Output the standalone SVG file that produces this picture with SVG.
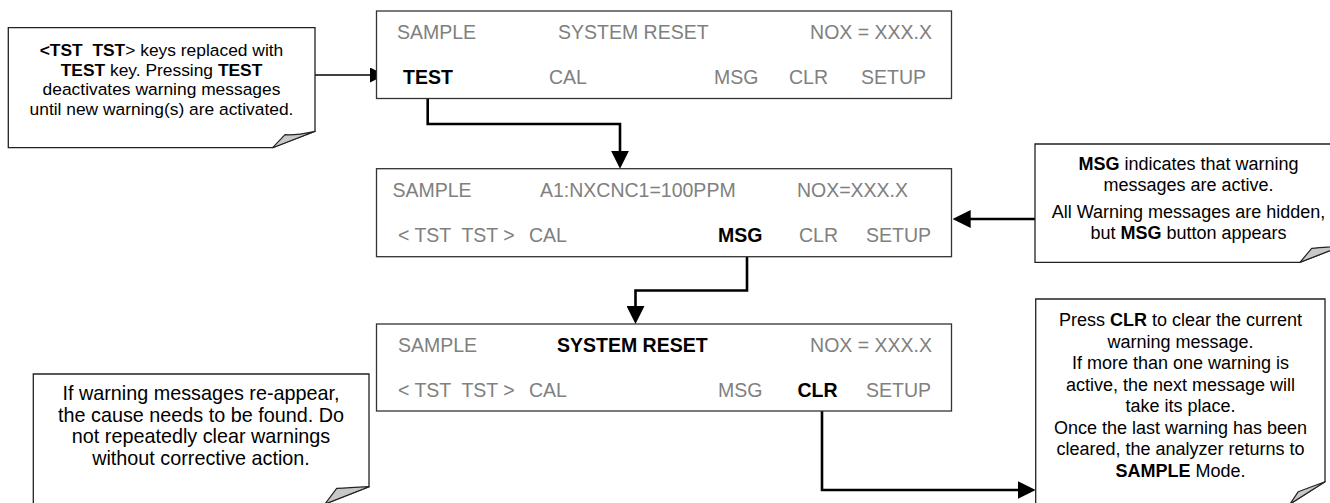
<svg xmlns="http://www.w3.org/2000/svg" width="1330" height="503" viewBox="0 0 1330 503">
<defs>
<style>
.scr{fill:#fff;stroke:#333;stroke-width:1.3}
.st{font-family:"Liberation Sans",Arial,sans-serif;font-size:19.5px;fill:#808080}
.sb{font-family:"Liberation Sans",Arial,sans-serif;font-size:19.5px;font-weight:bold;fill:#000}
.co{fill:#fff;stroke:#222;stroke-width:1.3}
.flap{fill:#c8c8c8;stroke:#222;stroke-width:1.2;stroke-linejoin:round}
.ct{font-family:"Liberation Sans",Arial,sans-serif;fill:#000;text-anchor:middle;white-space:pre}
.b{font-weight:bold}
.thick{fill:none;stroke:#000;stroke-width:2.6}
.thin{fill:none;stroke:#000;stroke-width:1.3}
</style>
<marker id="ah" markerUnits="userSpaceOnUse" markerWidth="18" markerHeight="18" viewBox="0 0 18 18" refX="4" refY="9" orient="auto">
<path d="M0,0 L18,9 L0,18 Z" fill="#000"/>
</marker>
<marker id="ahs" markerUnits="userSpaceOnUse" markerWidth="15" markerHeight="15" viewBox="0 0 15 15" refX="4" refY="7.5" orient="auto">
<path d="M0,0 L15,7.5 L0,15 Z" fill="#000"/>
</marker>
</defs>

<g id="connectors">
<path class="thin" d="M315,75 H374" marker-end="url(#ahs)"/>
<path class="thick" d="M427.7,90.5 V124 H620 V154.7" marker-end="url(#ah)"/>
<path class="thick" d="M1035,219 H966.7" marker-end="url(#ah)"/>
<path class="thick" d="M747,246 V290.5 H635.5 V310" marker-end="url(#ah)"/>
<path class="thick" d="M822,401 V490 H1021.7" marker-end="url(#ah)"/>
</g>

<g id="screen1">
<rect class="scr" x="376.5" y="11" width="575" height="87.5"/>
<text class="st" x="397" y="38.5">SAMPLE</text>
<text class="st" x="558" y="38.5">SYSTEM RESET</text>
<text class="st" x="932" y="38.5" text-anchor="end">NOX = XXX.X</text>
<text class="sb" x="403" y="84">TEST</text>
<text class="st" x="549" y="84">CAL</text>
<text class="st" x="714" y="84">MSG</text>
<text class="st" x="789" y="84">CLR</text>
<text class="st" x="861" y="84">SETUP</text>
</g>

<g id="screen2">
<rect class="scr" x="376.5" y="168.7" width="575" height="88"/>
<text class="st" x="392.5" y="196.5">SAMPLE</text>
<text class="st" x="540" y="196.5">A1:NXCNC1=100PPM</text>
<text class="st" x="908" y="196.5" text-anchor="end">NOX=XXX.X</text>
<text class="st" x="398" y="241.5" style="white-space:pre">&lt; TST  TST &gt;</text>
<text class="st" x="529" y="241.5">CAL</text>
<text class="sb" x="718" y="241.5">MSG</text>
<text class="st" x="799" y="241.5">CLR</text>
<text class="st" x="866" y="241.5">SETUP</text>
</g>

<g id="screen3">
<rect class="scr" x="376.5" y="324" width="575" height="87"/>
<text class="st" x="398" y="352">SAMPLE</text>
<text class="sb" x="557" y="352">SYSTEM RESET</text>
<text class="st" x="932" y="352" text-anchor="end">NOX = XXX.X</text>
<text class="st" x="398" y="397" style="white-space:pre">&lt; TST  TST &gt;</text>
<text class="st" x="529" y="397">CAL</text>
<text class="st" x="718" y="397">MSG</text>
<text class="sb" x="797.5" y="397">CLR</text>
<text class="st" x="866" y="397">SETUP</text>
</g>

<g id="callout-test">
<path class="co" d="M8.3,27.7 H315 V131.3 L272.7,147.7 H8.3 Z"/>
<path class="flap" d="M272.7,147.7 L285,134.7 Q296,135.5 315,131.3 Z"/>
<text class="ct" font-size="17.4" x="161.5" y="56"><tspan class="b">&lt;TST  TST</tspan>&gt; keys replaced with</text>
<text class="ct" font-size="17.4" x="161.5" y="75.5"><tspan class="b">TEST</tspan> key. Pressing <tspan class="b">TEST</tspan></text>
<text class="ct" font-size="17.4" x="161.5" y="95">deactivates warning messages</text>
<text class="ct" font-size="17.4" x="161.5" y="114.5">until new warning(s) are activated.</text>
</g>

<g id="callout-msg">
<path class="co" d="M1035,144 H1342 V246 L1300,262.3 H1035 Z"/>
<path class="flap" d="M1300,262.3 L1311.7,248.3 Q1320,247.5 1342,246 Z"/>
<text class="ct" font-size="18" x="1188.5" y="169.5"><tspan class="b">MSG</tspan> indicates that warning</text>
<text class="ct" font-size="18" x="1188.5" y="190.5">messages are active.</text>
<text class="ct" font-size="18" x="1188.5" y="217.5">All Warning messages are hidden,</text>
<text class="ct" font-size="18" x="1188.5" y="238.5">but <tspan class="b">MSG</tspan> button appears</text>
</g>

<g id="callout-clr">
<path class="co" d="M1035.7,299 H1325 V481.7 L1290,504 H1035.7 Z"/>
<path class="flap" d="M1290,504 L1298.3,491.7 Q1308,488 1325,481.7 Z"/>
<text class="ct" font-size="18" x="1180.5" y="326">Press <tspan class="b">CLR</tspan> to clear the current</text>
<text class="ct" font-size="18" x="1180.5" y="347.5">warning message.</text>
<text class="ct" font-size="18" x="1180.5" y="369">If more than one warning is</text>
<text class="ct" font-size="18" x="1180.5" y="390.5">active, the next message will</text>
<text class="ct" font-size="18" x="1180.5" y="412">take its place.</text>
<text class="ct" font-size="18" x="1180.5" y="433.5">Once the last warning has been</text>
<text class="ct" font-size="18" x="1180.5" y="455">cleared, the analyzer returns to</text>
<text class="ct" font-size="18" x="1180.5" y="476.5"><tspan class="b">SAMPLE</tspan> Mode.</text>
</g>

<g id="callout-warn">
<path class="co" d="M33.3,374 H369 V486.7 L325,504 H33.3 Z"/>
<path class="flap" d="M325,504 L336.7,488.3 Q348,488 369,486.7 Z"/>
<text class="ct" font-size="19.8" x="201" y="400">If warning messages re-appear,</text>
<text class="ct" font-size="19.8" x="201" y="421.7">the cause needs to be found. Do</text>
<text class="ct" font-size="19.8" x="201" y="443">not repeatedly clear warnings</text>
<text class="ct" font-size="19.8" x="201" y="465">without corrective action.</text>
</g>
</svg>
